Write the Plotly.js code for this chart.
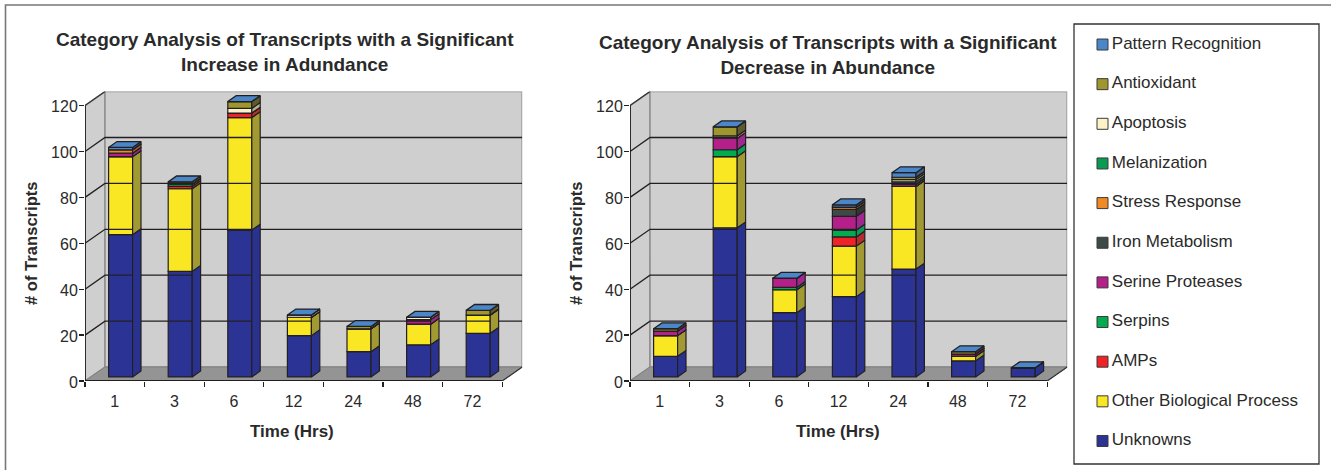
<!DOCTYPE html>
<html>
<head>
<meta charset="utf-8">
<script src="https://cdn.plot.ly/plotly-3.0.1.min.js"></script>
<style>html,body{margin:0;padding:0;background:#fff}#chart{width:1331px;height:470px}</style>
</head>
<body>
<div id="chart"></div>
<script>
const categories = ['1','3','6','12','24','48','72'];
const seriesNames = ['Unknowns','Other Biological Process','AMPs','Serpins','Serine Proteases','Iron Metabolism','Stress Response','Melanization','Apoptosis','Antioxidant','Pattern Recognition'];
const seriesColors = ['#2b3494','#fae723','#ee2227','#00ac4f','#b51f8a','#3e4a47','#f08a24','#0a9a54','#fdf3c8','#9f962f','#4a86c8'];
const sideColors = ['#2a3290','#a19a33','#b52b2f','#0b9a53','#a0278f','#2f3634','#a8642a','#0a7a44','#b5b08a','#5e5a30','#3a5f8a'];

// Increase in abundance (left chart)
const incUnknowns  = [62,46,64,18,11,14,19];
const incOther     = [34,36,49, 8,10, 9, 8];
const incAMPs      = [ 0, 1, 2, 0, 0, 0, 0];
const incSerpins   = [ 0, 1, 0, 0, 0, 0, 0];
const incSerine    = [1.5, 0, 0, 0, 0, 2, 0];
const incIron      = [ 0, 0, 0, 0, 0, 0, 0];
const incStress    = [1.5, 0, 0, 0, 0, 0, 0];
const incMelan     = [ 0, 0, 0, 0, 0, 0, 0];
const incApoptosis = [ 0, 0, 2, 1, 0, 1, 0];
const incAntiox    = [ 0, 1, 3, 0, 1, 0, 2];
const incPattern   = [ 1, 0, 0, 0, 0, 0, 0];

// Decrease in abundance (right chart)
const decUnknowns  = [ 9,65,28,35,47, 7, 4];
const decOther     = [ 9,31,10,22,36, 2, 0];
const decAMPs      = [ 0, 0, 0, 4, 0, 0, 0];
const decSerpins   = [ 0, 3, 1, 3, 0, 0, 0];
const decSerine    = [ 2, 5, 4, 6, 1, 1, 0];
const decIron      = [ 0, 0, 0, 3, 0, 0, 0];
const decStress    = [ 0, 0, 0, 1, 0, 0, 0];
const decMelan     = [ 0, 0, 0, 0, 1, 0, 0];
const decApoptosis = [ 0, 1, 0, 0, 1, 0, 0];
const decAntiox    = [ 1, 4, 0, 0, 1, 1, 0];
const decPattern   = [ 0, 0, 0, 1, 2, 0, 0];

const incData = [incUnknowns,incOther,incAMPs,incSerpins,incSerine,incIron,incStress,incMelan,incApoptosis,incAntiox,incPattern];
const decData = [decUnknowns,decOther,decAMPs,decSerpins,decSerine,decIron,decStress,decMelan,decApoptosis,decAntiox,decPattern];
const yTicks = [0,20,40,60,80,100,120];

const W = 1331, H = 470;
const FONT = '"Liberation Sans", Arial, sans-serif';
const INK = '#2a2a2a';
const EDGE = '#231f20';
const DX = 20/59.6, DY = 14/2.295;      // depth of the box in axis units
const FRONT = 0.29, BACK = 0.71, BAR_W = 24/59.6;
const domX = (a,b)=>[a/W,b/W], domY = (bot,top)=>[1-bot/H,1-top/H];

const traces = [], shapes = [], annotations = [];
const layout = {
  width:W, height:H, margin:{l:0,r:0,t:0,b:0}, paper_bgcolor:'#fff', plot_bgcolor:'rgba(0,0,0,0)',
  showlegend:false, barmode:'overlay', bargap:0, hovermode:false, font:{family:FONT,color:INK}
};

function chart(idx, data, left, title, titleX, titleY, xTitleX, yTitleX) {
  const xn = idx===1?'x':'x'+idx, yn = idx===1?'y':'y'+idx;
  const xk = idx===1?'xaxis':'xaxis'+idx, yk = idx===1?'yaxis':'yaxis'+idx;
  const n = categories.length;
  const xs = categories.map((_,i)=>i+1);
  layout[xk] = {
    domain:domX(left,left+59.6*n+20), range:[0.5,n+0.5+DX], anchor:yn, fixedrange:true,
    tickmode:'array', tickvals:xs, ticktext:categories, ticks:'outside', ticklen:6, tickcolor:'rgba(0,0,0,0)',
    tickfont:{size:16,color:INK,family:FONT}, showgrid:false, zeroline:false, showline:false,
    minor:{tickmode:'array', tickvals:Array.from({length:n+1},(_,i)=>i+0.5), ticks:'outside', ticklen:5, tickwidth:1.3, tickcolor:EDGE, showgrid:false}
  };
  layout[yk] = {
    domain:domY(381,381-(120+DY)*2.295), range:[0,120+DY], anchor:xn, fixedrange:true,
    tickmode:'array', tickvals:yTicks, ticks:'outside', ticklen:5, tickwidth:1.3, tickcolor:EDGE, ticklabelstandoff:-2, ticklabelshift:1,
    tickfont:{size:16,color:INK,family:FONT}, showgrid:false, zeroline:false, showline:false
  };
  const x0=0.5, x1=n+0.5, t=yTicks[yTicks.length-1];
  const poly = (pts,fill,lc,lw)=>shapes.push({type:'path',xref:xn,yref:yn,layer:'below',
    path:'M'+pts.map(p=>p[0]+','+p[1]).join('L')+'Z',fillcolor:fill,line:{color:lc,width:lw}});
  poly([[x0,0],[x0+DX,DY],[x0+DX,t+DY],[x0,t]],'#cfcfcf','#8f8f8f',1.5);
  poly([[x0+DX,DY],[x1+DX,DY],[x1+DX,t+DY],[x0+DX,t+DY]],'#cfcfcf','#8f8f8f',1.5);
  poly([[x0,0],[x1,0],[x1+DX,DY],[x0+DX,DY]],'#949494','#808080',1);

  // grid lines running along the side and back walls
  const gx=[],gy=[];
  yTicks.slice(1,-1).forEach(v=>{gx.push(x0,x0+DX,x1+DX,null);gy.push(v,v+DY,v+DY,null);});
  traces.push({type:'scatter',mode:'lines',x:gx,y:gy,xaxis:xn,yaxis:yn,cliponaxis:false,line:{color:EDGE,width:1.3},hoverinfo:'skip'});
  traces.push({type:'scatter',mode:'lines',x:[x0,x0+DX,null,x1,x1+DX],y:[t,t+DY,null,0,DY],xaxis:xn,yaxis:yn,cliponaxis:false,line:{color:'#333',width:1.2},hoverinfo:'skip'});
  traces.push({type:'scatter',mode:'lines',x:[x0,x0,x1],y:[t,0,0],xaxis:xn,yaxis:yn,cliponaxis:false,line:{color:EDGE,width:1.8},hoverinfo:'skip'});

  // stacked boxes
  const cum = xs.map(()=>0);
  const xF = xs.map(c=>c+FRONT*DX);
  const dd = (BACK-FRONT);
  data.forEach((vals,s)=>{
    const base = cum.map(b=>b+FRONT*DY);
    traces.push({type:'bar',name:seriesNames[s],x:xF,y:vals,base:base,width:BAR_W,xaxis:xn,yaxis:yn,
      marker:{color:seriesColors[s],line:{color:EDGE,width:1.2}},hoverinfo:'skip'});
    const sx=[],sy=[];
    vals.forEach((v,i)=>{
      const r=xF[i]+BAR_W/2, a=cum[i], b=cum[i]+v;
      sx.push(r,r+dd*DX,r+dd*DX,r,r,null);
      sy.push(a+FRONT*DY,a+BACK*DY,b+BACK*DY,b+FRONT*DY,a+FRONT*DY,null);
      cum[i]=b;
    });
    traces.push({type:'scatter',mode:'lines',x:sx,y:sy,xaxis:xn,yaxis:yn,fill:'toself',fillcolor:sideColors[s],cliponaxis:false,
      line:{color:EDGE,width:1.2},hoverinfo:'skip'});
  });
  const tx=[],ty=[];
  xs.forEach((_,i)=>{
    const l=xF[i]-BAR_W/2,r=xF[i]+BAR_W/2,h=cum[i];
    tx.push(l,r,r+dd*DX,l+dd*DX,l,null);
    ty.push(h+FRONT*DY,h+FRONT*DY,h+BACK*DY,h+BACK*DY,h+FRONT*DY,null);
  });
  traces.push({type:'scatter',mode:'lines',x:tx,y:ty,xaxis:xn,yaxis:yn,fill:'toself',fillcolor:seriesColors[10],cliponaxis:false,
    line:{color:EDGE,width:1.3},hoverinfo:'skip'});

  annotations.push({xref:'paper',yref:'paper',x:titleX/W,y:1-titleY/H,xanchor:'center',yanchor:'middle',showarrow:false,align:'center',
    text:title,font:{size:19,family:FONT,color:INK}});
  annotations.push({xref:'paper',yref:'paper',x:xTitleX/W,y:1-431/H,xanchor:'center',yanchor:'middle',showarrow:false,
    text:'<b>Time (Hrs)</b>',font:{size:17,family:FONT,color:INK}});
  annotations.push({xref:'paper',yref:'paper',x:yTitleX/W,y:1-243/H,xanchor:'center',yanchor:'middle',showarrow:false,textangle:-90,
    text:'<b># of Transcripts</b>',font:{size:16.6,family:FONT,color:INK}});
}

chart(1,incData,85,'<b>Category Analysis of Transcripts with a Significant<br>Increase in Adundance</b>',285,52.5,292,31);
chart(2,decData,630,'<b>Category Analysis of Transcripts with a Significant<br>Decrease in Abundance</b>',828,55,838,576);

// key, built from the series arrays, top entry = last series
layout.xaxis3 = {domain:domX(1102.5,1310),range:[0,1],visible:false,fixedrange:true,anchor:'y3'};
layout.yaxis3 = {domain:domY(460.8,24.7),range:[-0.5,seriesNames.length-0.5],visible:false,fixedrange:true,anchor:'x3'};
traces.push({type:'scatter',mode:'markers',xaxis:'x3',yaxis:'y3',cliponaxis:false,
  x:seriesNames.map(()=>0),y:seriesNames.map((_,i)=>i),
  marker:{symbol:'square',size:11,color:seriesColors,line:{color:'#3a3a3a',width:1}},hoverinfo:'skip'});
traces.push({type:'scatter',mode:'text',xaxis:'x3',yaxis:'y3',cliponaxis:false,
  x:seriesNames.map(()=>0.045),y:seriesNames.map((_,i)=>i),text:seriesNames,textposition:'middle right',
  textfont:{size:17,family:FONT,color:INK},hoverinfo:'skip'});

shapes.push({type:'rect',xref:'paper',yref:'paper',layer:'below',x0:1074/W,x1:1319/W,y0:1-464/H,y1:1-24/H,fillcolor:'#fff',line:{color:'#333',width:1.3}});
shapes.push({type:'path',xref:'paper',yref:'paper',layer:'below',
  path:'M'+(5.5/W)+',0L'+(5.5/W)+','+(1-5/H)+'L1,'+(1-5/H),line:{color:'#777',width:1.6}});
layout.shapes = shapes;
layout.annotations = annotations;
Plotly.newPlot('chart',traces,layout,{displayModeBar:false,staticPlot:true});
</script>
</body>
</html>
